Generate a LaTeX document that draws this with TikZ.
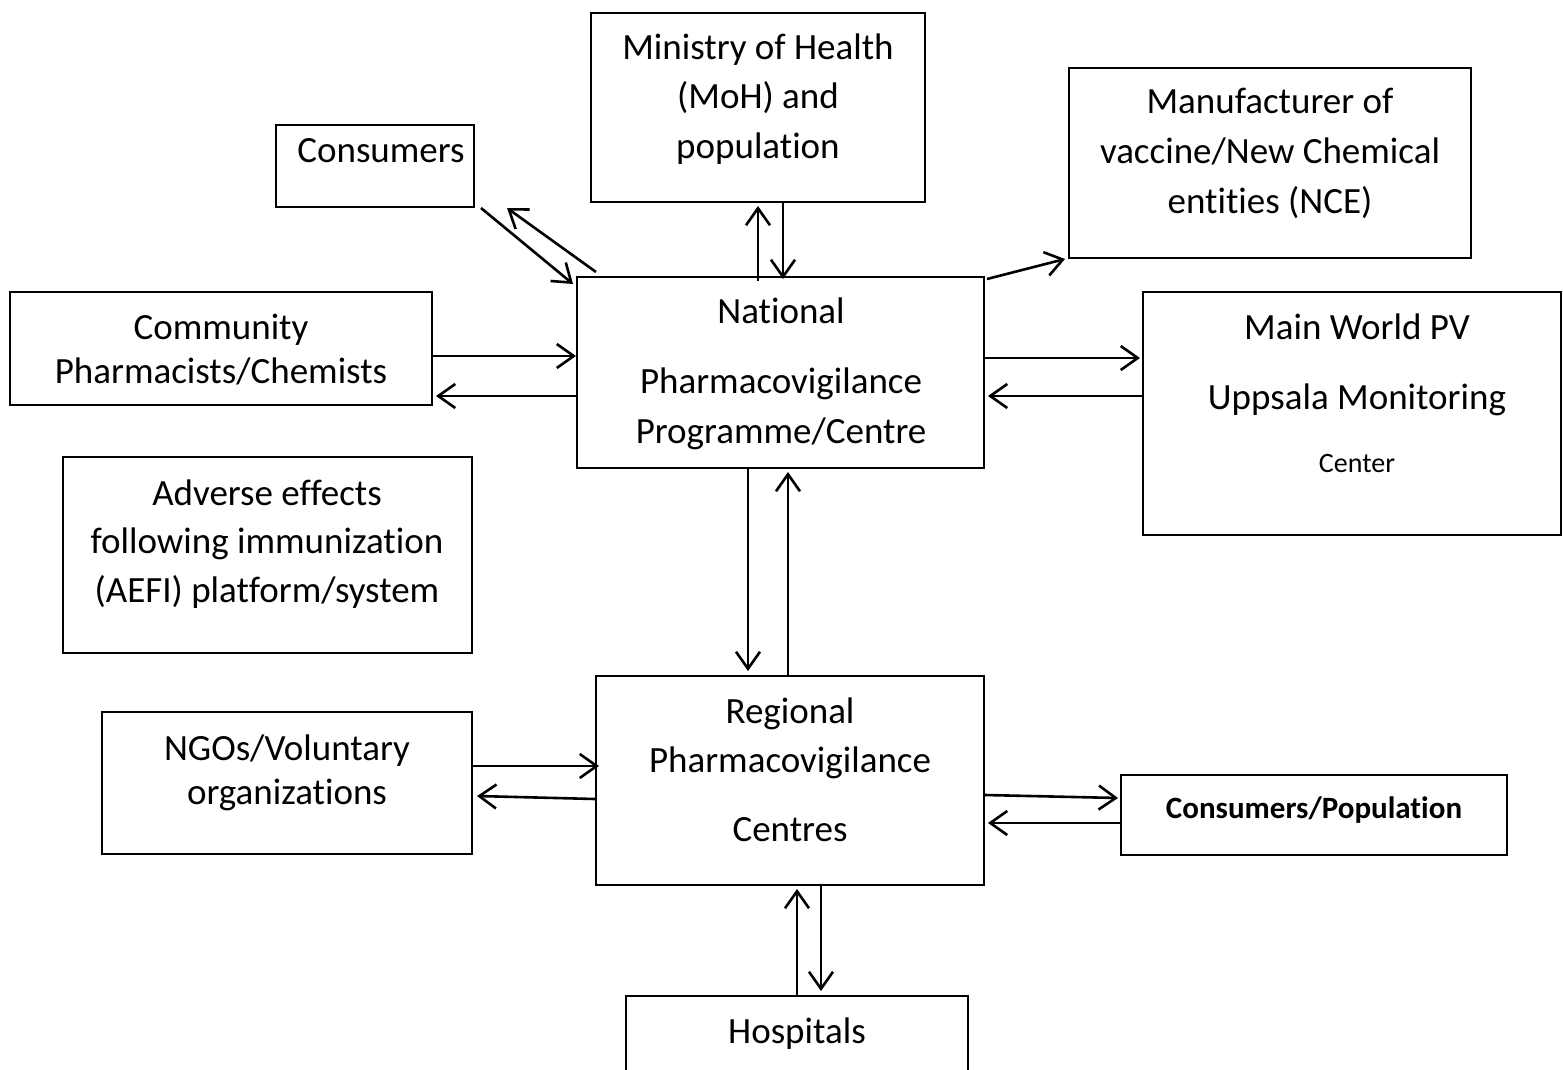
\documentclass[tikz,border=0pt]{standalone}
\usepackage{fontspec}
\setmainfont[Ligatures=NoCommon]{Carlito}
\usetikzlibrary{arrows.meta,calc}
\begin{document}
\begin{tikzpicture}[x=1pt,y=-1pt,
  box/.style={draw,line width=2pt,inner sep=0pt},
  txt/.style={anchor=base,inner sep=0pt,font=\fontsize{37}{44}\selectfont},
  small/.style={anchor=base,inner sep=0pt,font=\fontsize{28}{34}\selectfont},
  boldtxt/.style={anchor=base,inner sep=0pt,font=\fontsize{31}{38}\selectfont\bfseries},
  arr/.style={line width=2.6pt,-{Straight Barb[length=17pt,width=24pt]}}]
\useasboundingbox (0,0) rectangle (1563,1070);
\clip (0,0) rectangle (1563,1070);
\fill[white] (0,0) rectangle (1563,1070);

% boxes
\node[box,minimum width=198pt,minimum height=82pt] (cons) at (375,166) {};
\node[box,minimum width=334pt,minimum height=189pt] (min) at (758,107.5) {};
\node[box,minimum width=402pt,minimum height=190pt] (manu) at (1270,163) {};
\node[box,minimum width=422pt,minimum height=113pt] (comm) at (221,348.5) {};
\node[box,minimum width=407pt,minimum height=191pt] (nat) at (780.5,372.5) {};
\node[box,minimum width=418pt,minimum height=243pt] (main) at (1352,413.5) {};
\node[box,minimum width=409pt,minimum height=196pt] (aefi) at (267.5,555) {};
\node[box,minimum width=370pt,minimum height=142pt] (ngo) at (287,783) {};
\node[box,minimum width=388pt,minimum height=209pt] (reg) at (790,780.5) {};
\node[box,minimum width=386pt,minimum height=80pt] (cpop) at (1314,815) {};
\node[box,minimum width=342pt,minimum height=104pt] (hosp) at (797,1048) {};

% texts
\node[txt] (tcons) at (381,162) {Consumers};
\node[txt] (tmin1) at (758,60) {Ministry of Health};
\node[txt] (tmin2) at (758,109) {(MoH) and};
\node[txt] (tmin3) at (758,158) {population};
\node[txt] (tmanu1) at (1270,114) {Manufacturer of};
\node[txt] (tmanu2) at (1270,164) {vaccine/New Chemical};
\node[txt] (tmanu3) at (1270,213) {entities (NCE)};
\node[txt] (tcomm1) at (221,339) {Community};
\node[txt] (tcomm2) at (221,383) {Pharmacists/Chemists};
\node[txt] (tnat1) at (781,323) {National};
\node[txt] (tnat2) at (781,393) {Pharmacovigilance};
\node[txt] (tnat3) at (781,443) {Programme/Centre};
\node[txt] (tmain1) at (1357,339) {Main World PV};
\node[txt] (tmain2) at (1357,409) {Uppsala Monitoring};
\node[small] (tmain3) at (1357,472) {Center};
\node[txt] (taefi1) at (267,505) {Adverse effects};
\node[txt] (taefi2) at (267,553) {following immunization};
\node[txt] (taefi3) at (267,602) {(AEFI) platform/system};
\node[txt] (tngo1) at (287,760) {NGOs/Voluntary};
\node[txt] (tngo2) at (287,804) {organizations};
\node[txt] (treg1) at (790,723) {Regional};
\node[txt] (treg2) at (790,772) {Pharmacovigilance};
\node[txt] (treg3) at (790,841) {Centres};
\node[boldtxt] (tcpop) at (1314,818) {Consumers/Population};
\node[txt] (thosp) at (797,1043) {Hospitals};

% arrows
\draw[arr] ($(cons.south east)+(6,0)$) -- ($(nat.north west)+(-3,8)$);
\draw[arr] ($(nat.north west)+(20,-4)$) -- ($(cons.south east)+(32,0)$);
\draw[arr] ($(min.south|-nat.north)+(0,5)$) -- ($(min.south)+(0,3)$);
\draw[arr] ($(min.south)+(25,0)$) -- ($(min.south|-nat.north)+(25,3)$);
\draw[arr] ($(nat.north east)+(2,3)$) -- ($(manu.south west)+(-3,0)$);
\draw[arr] (comm.east|-0,356) -- (nat.west|-0,356);
\draw[arr] (nat.west|-0,396) -- ($(comm.east|-0,396)+(3,0)$);
\draw[arr] (nat.east|-0,358) -- ($(main.west|-0,358)+(-2,0)$);
\draw[arr] (main.west|-0,396) -- ($(nat.east|-0,396)+(3,0)$);
\draw[arr] (nat.south-|748,0) -- ($(reg.north-|748,0)+(0,-4)$);
\draw[arr] (reg.north-|788,0) -- ($(nat.south-|788,0)+(0,3)$);
\draw[arr] (ngo.east|-0,766) -- ($(reg.west|-0,766)+(4,0)$);
\draw[arr] (reg.west|-0,799) -- ($(ngo.east|-0,796)+(4,0)$);
\draw[arr] (reg.east|-0,795) -- ($(cpop.west|-0,798)+(-2,0)$);
\draw[arr] (cpop.west|-0,823) -- ($(reg.east|-0,823)+(3,0)$);
\draw[arr] (hosp.north) -- ($(reg.south-|797,0)+(0,3)$);
\draw[arr] (reg.south-|821,0) -- ($(hosp.north-|821,0)+(0,-4)$);
\end{tikzpicture}
\end{document}
